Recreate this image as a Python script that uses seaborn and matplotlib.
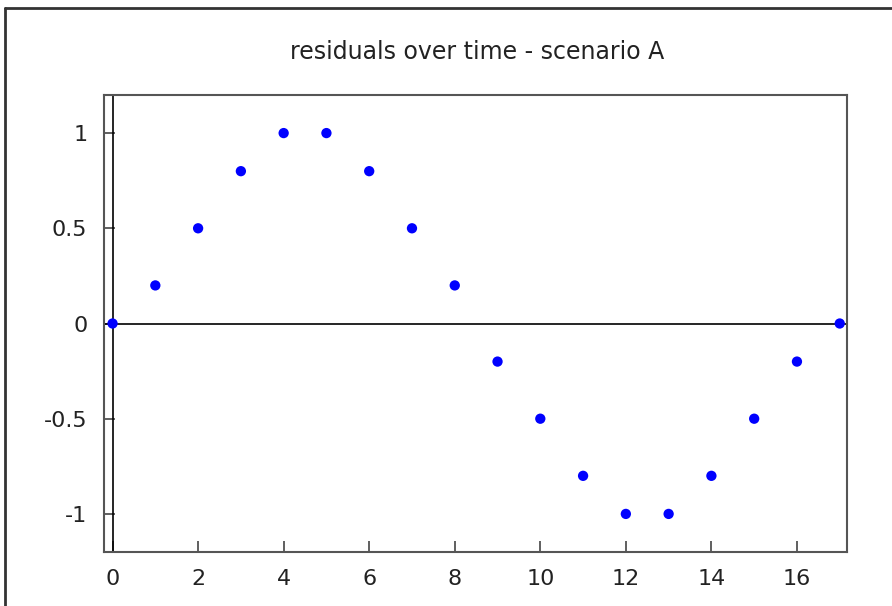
import seaborn as sns
import pandas as pd
import matplotlib.pyplot as plt
from matplotlib.lines import Line2D

# residuals, one per time step
t = list(range(18))
residual = [0, 0.2, 0.5, 0.8, 1, 1, 0.8, 0.5, 0.2,
            -0.2, -0.5, -0.8, -1, -1, -0.8, -0.5, -0.2, 0]
xticks = [0, 2, 4, 6, 8, 10, 12, 14, 16]
yticks = [-1, -0.5, 0, 0.5, 1]
ytick_labels = ['-1', '-0.5', '0', '0.5', '1']

df = pd.DataFrame({'t': t, 'residual': residual})

sns.set_style('white')
plt.rcParams['font.family'] = ['DejaVu Sans']

fig = plt.figure(figsize=(8.92, 6.06), dpi=100)
ax = fig.add_axes([104 / 892, 1 - 552 / 606, (847 - 104) / 892, (552 - 95) / 606])

sns.scatterplot(data=df, x='t', y='residual', ax=ax, color='#0000ff',
                s=55, edgecolor='none', zorder=3)

ax.axhline(0, color='black', lw=1.2, zorder=2)
ax.axvline(0, color='black', lw=1.2, zorder=2)

ax.set_xlim(-0.2, 17.17)
ax.set_ylim(-1.2, 1.2)
ax.set_xticks(xticks)
ax.set_yticks(yticks)
ax.set_yticklabels(ytick_labels)
ax.set_xlabel('')
ax.set_ylabel('')
ax.tick_params(bottom=True, left=True, direction='in', length=8, width=1.2,
               labelsize=16, colors='#444444', labelcolor='#222222', pad=12)
for sp in ax.spines.values():
    sp.set_color('#555555')
    sp.set_linewidth(1.5)

fig.text(477 / 892, 1 - 52 / 606, 'residuals over time - scenario A',
         ha='center', va='center', fontsize=17, color='#222222')

# outer frame
fig.add_artist(Line2D([5 / 892, 5 / 892], [0, 1 - 8 / 606], transform=fig.transFigure,
                      color='#333333', lw=2))
fig.add_artist(Line2D([5 / 892, 1], [1 - 8 / 606, 1 - 8 / 606], transform=fig.transFigure,
                      color='#333333', lw=2))

fig.savefig('out.png', dpi=100)
